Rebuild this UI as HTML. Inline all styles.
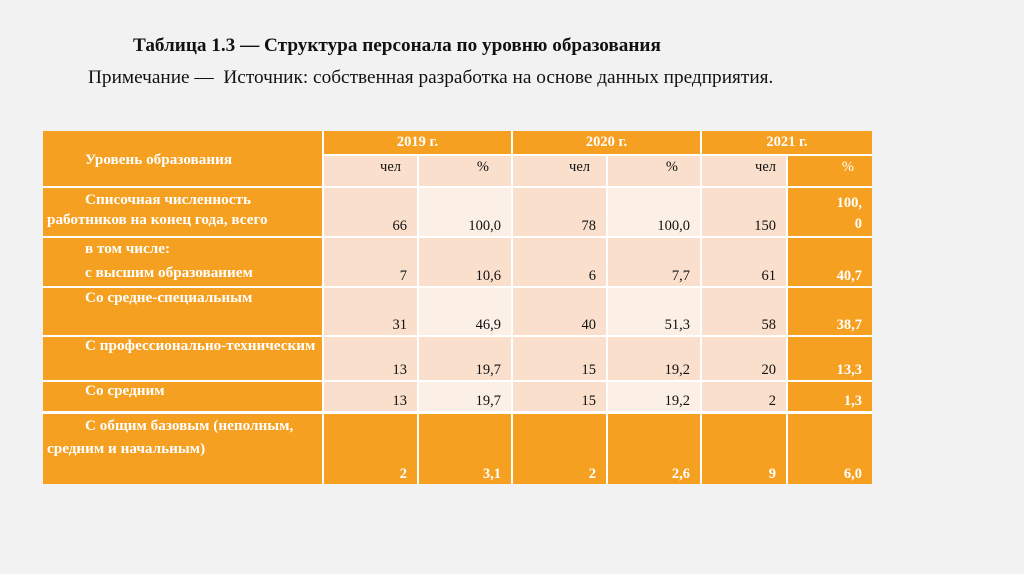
<!DOCTYPE html>
<html><head><meta charset="utf-8"><style>
body{margin:0;width:1024px;height:574px;background:#f2f2f2;position:relative;overflow:hidden;font-family:"Liberation Serif","DejaVu Serif",serif;}
.t{position:absolute;white-space:nowrap;color:#111;}
.c{position:absolute;box-sizing:border-box;font-size:14.5px;color:#111;}
.o{background:#f5a020;color:#fff;font-weight:bold;}
.p{background:#f9dfcc;}
.l{background:#fcefe6;}
.v{position:absolute;right:10px;bottom:1px;}
.lb{position:absolute;left:42px;top:1px;line-height:20px;font-weight:bold;color:#fff;font-size:15.2px;white-space:nowrap;}
</style></head><body>
<div class="t" style="left:133px;top:35px;font-size:19.2px;font-weight:bold;">Таблица 1.3 — Структура персонала по уровню образования</div>
<div class="t" style="left:88px;top:67px;font-size:19.3px;">Примечание —&nbsp; Источник: собственная разработка на основе данных предприятия.</div>
<div style="position:absolute;left:43px;top:131px;width:829px;height:353px;background:#fff;"></div>
<!-- header -->
<div class="c o" style="left:43px;top:131px;width:279px;height:55px;"><div class="lb" style="top:19px;">Уровень образования</div></div>
<div class="c o" style="left:324px;top:131px;width:187px;height:23px;text-align:center;line-height:23px;">2019 г.</div>
<div class="c o" style="left:513px;top:131px;width:187px;height:23px;text-align:center;line-height:23px;">2020 г.</div>
<div class="c o" style="left:702px;top:131px;width:170px;height:23px;text-align:center;line-height:23px;">2021 г.</div>
<div class="c p" style="left:324px;top:156px;width:93px;height:30px;"><span class="v" style="top:3px;bottom:auto;right:16px">чел</span></div>
<div class="c p" style="left:419px;top:156px;width:92px;height:30px;"><span class="v" style="top:3px;bottom:auto;right:22px">%</span></div>
<div class="c p" style="left:513px;top:156px;width:93px;height:30px;"><span class="v" style="top:3px;bottom:auto;right:16px">чел</span></div>
<div class="c p" style="left:608px;top:156px;width:92px;height:30px;"><span class="v" style="top:3px;bottom:auto;right:22px">%</span></div>
<div class="c p" style="left:702px;top:156px;width:84px;height:30px;"><span class="v" style="top:3px;bottom:auto;right:10px">чел</span></div>
<div class="c o" style="left:788px;top:156px;width:84px;height:30px;font-weight:normal;"><span class="v" style="top:3px;bottom:auto;right:18px">%</span></div>

<!-- row1 -->
<div class="c o" style="left:43px;top:188px;width:279px;height:48px;"><div class="lb" style="left:4px;top:2px;text-indent:38px;">Списочная численность<br>работников на конец года, всего</div></div>
<div class="c p" style="left:324px;top:188px;width:93px;height:48px;"><span class="v">66</span></div>
<div class="c l" style="left:419px;top:188px;width:92px;height:48px;"><span class="v">100,0</span></div>
<div class="c p" style="left:513px;top:188px;width:93px;height:48px;"><span class="v">78</span></div>
<div class="c l" style="left:608px;top:188px;width:92px;height:48px;"><span class="v">100,0</span></div>
<div class="c p" style="left:702px;top:188px;width:84px;height:48px;"><span class="v">150</span></div>
<div class="c o" style="left:788px;top:188px;width:84px;height:48px;"><span class="v" style="text-align:right;line-height:21px;">100,<br>0</span></div>
<!-- row2 -->
<div class="c o" style="left:43px;top:238px;width:279px;height:48px;"><div class="lb" style="top:-1px;line-height:24px;">в том числе:<br>с высшим образованием</div></div>
<div class="c p" style="left:324px;top:238px;width:93px;height:48px;"><span class="v">7</span></div>
<div class="c p" style="left:419px;top:238px;width:92px;height:48px;"><span class="v">10,6</span></div>
<div class="c p" style="left:513px;top:238px;width:93px;height:48px;"><span class="v">6</span></div>
<div class="c p" style="left:608px;top:238px;width:92px;height:48px;"><span class="v">7,7</span></div>
<div class="c p" style="left:702px;top:238px;width:84px;height:48px;"><span class="v">61</span></div>
<div class="c o" style="left:788px;top:238px;width:84px;height:48px;"><span class="v">40,7</span></div>
<!-- row3 -->
<div class="c o" style="left:43px;top:288px;width:279px;height:47px;"><div class="lb" style="top:0px;">Со средне-специальным</div></div>
<div class="c p" style="left:324px;top:288px;width:93px;height:47px;"><span class="v">31</span></div>
<div class="c l" style="left:419px;top:288px;width:92px;height:47px;"><span class="v">46,9</span></div>
<div class="c p" style="left:513px;top:288px;width:93px;height:47px;"><span class="v">40</span></div>
<div class="c l" style="left:608px;top:288px;width:92px;height:47px;"><span class="v">51,3</span></div>
<div class="c p" style="left:702px;top:288px;width:84px;height:47px;"><span class="v">58</span></div>
<div class="c o" style="left:788px;top:288px;width:84px;height:47px;"><span class="v">38,7</span></div>
<!-- row4 -->
<div class="c o" style="left:43px;top:337px;width:279px;height:43px;"><div class="lb" style="top:-1px;">С профессионально-техническим</div></div>
<div class="c p" style="left:324px;top:337px;width:93px;height:43px;"><span class="v">13</span></div>
<div class="c p" style="left:419px;top:337px;width:92px;height:43px;"><span class="v">19,7</span></div>
<div class="c p" style="left:513px;top:337px;width:93px;height:43px;"><span class="v">15</span></div>
<div class="c p" style="left:608px;top:337px;width:92px;height:43px;"><span class="v">19,2</span></div>
<div class="c p" style="left:702px;top:337px;width:84px;height:43px;"><span class="v">20</span></div>
<div class="c o" style="left:788px;top:337px;width:84px;height:43px;"><span class="v">13,3</span></div>
<!-- row5 -->
<div class="c o" style="left:43px;top:382px;width:279px;height:29px;"><div class="lb" style="top:-1px;">Со средним</div></div>
<div class="c p" style="left:324px;top:382px;width:93px;height:29px;"><span class="v">13</span></div>
<div class="c l" style="left:419px;top:382px;width:92px;height:29px;"><span class="v">19,7</span></div>
<div class="c p" style="left:513px;top:382px;width:93px;height:29px;"><span class="v">15</span></div>
<div class="c l" style="left:608px;top:382px;width:92px;height:29px;"><span class="v">19,2</span></div>
<div class="c p" style="left:702px;top:382px;width:84px;height:29px;"><span class="v">2</span></div>
<div class="c o" style="left:788px;top:382px;width:84px;height:29px;"><span class="v">1,3</span></div>
<!-- row6 -->
<div class="c o" style="left:43px;top:414px;width:279px;height:70px;"><div class="lb" style="left:4px;top:0px;line-height:23px;text-indent:38px;">С общим базовым (неполным,<br>средним и начальным)</div></div>
<div class="c o" style="left:324px;top:414px;width:93px;height:70px;"><span class="v">2</span></div>
<div class="c o" style="left:419px;top:414px;width:92px;height:70px;"><span class="v">3,1</span></div>
<div class="c o" style="left:513px;top:414px;width:93px;height:70px;"><span class="v">2</span></div>
<div class="c o" style="left:608px;top:414px;width:92px;height:70px;"><span class="v">2,6</span></div>
<div class="c o" style="left:702px;top:414px;width:84px;height:70px;"><span class="v">9</span></div>
<div class="c o" style="left:788px;top:414px;width:84px;height:70px;"><span class="v">6,0</span></div>
</body></html>
